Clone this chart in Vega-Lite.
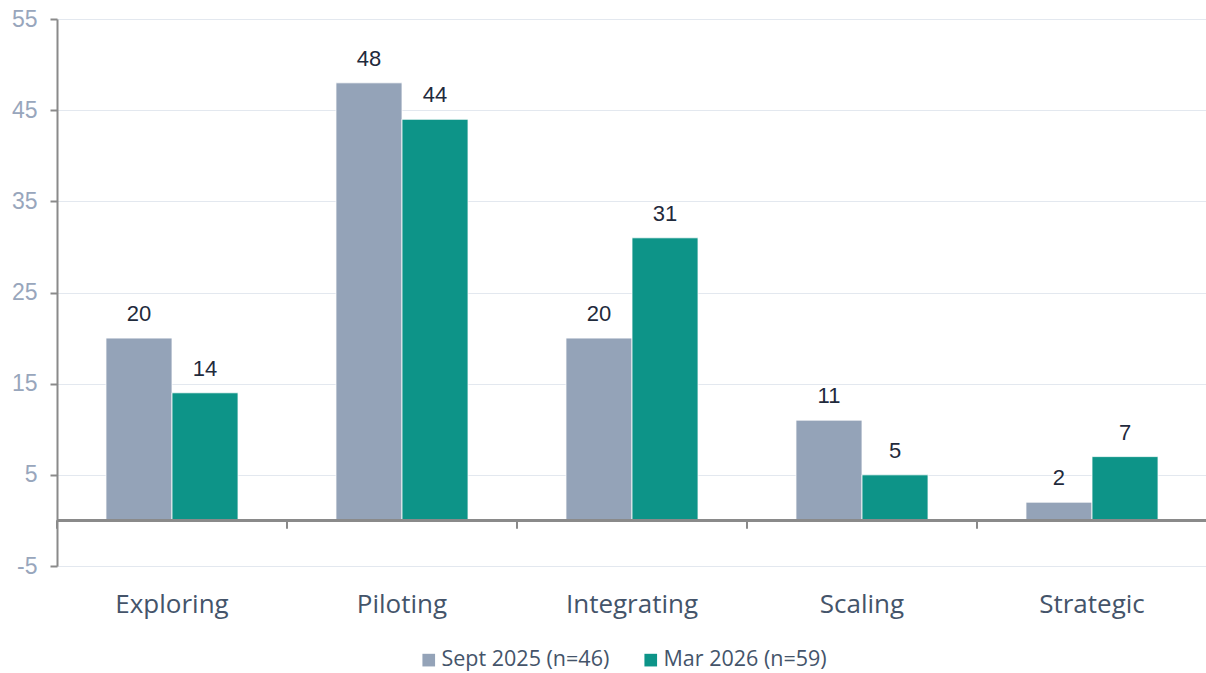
{
  "$schema": "https://vega.github.io/schema/vega-lite/v6.json",
  "width": 1150,
  "height": 547,
  "autosize": {"type": "none"},
  "padding": {"left": 57, "top": 19, "right": 0, "bottom": 107},
  "background": "white",
  "data": {
    "values": [
      {"stage": "Exploring", "series": "Sept 2025 (n=46)", "value": 20},
      {"stage": "Exploring", "series": "Mar 2026 (n=59)", "value": 14},
      {"stage": "Piloting", "series": "Sept 2025 (n=46)", "value": 48},
      {"stage": "Piloting", "series": "Mar 2026 (n=59)", "value": 44},
      {"stage": "Integrating", "series": "Sept 2025 (n=46)", "value": 20},
      {"stage": "Integrating", "series": "Mar 2026 (n=59)", "value": 31},
      {"stage": "Scaling", "series": "Sept 2025 (n=46)", "value": 11},
      {"stage": "Scaling", "series": "Mar 2026 (n=59)", "value": 5},
      {"stage": "Strategic", "series": "Sept 2025 (n=46)", "value": 2},
      {"stage": "Strategic", "series": "Mar 2026 (n=59)", "value": 7}
    ]
  },
  "config": {
    "view": {"stroke": null},
    "axisX": {
      "title": null,
      "domain": false,
      "ticks": false,
      "grid": false,
      "labelAngle": 0,
      "labelFont": "Open Sans",
      "labelFontSize": 26,
      "labelColor": "#44546a",
      "labelPadding": 25
    },
    "axisY": {
      "title": null,
      "domain": true,
      "domainColor": "#8a8a8a",
      "domainWidth": 2,
      "ticks": true,
      "tickColor": "#8a8a8a",
      "tickWidth": 2,
      "tickSize": 7,
      "grid": true,
      "gridColor": "#e3e8ef",
      "gridWidth": 1,
      "labelFont": "Liberation Sans",
      "labelFontSize": 23,
      "labelColor": "#98a6bc",
      "labelPadding": 13
    }
  },
  "layer": [
    {
      "mark": {"type": "bar", "stroke": "white", "strokeWidth": 0.8},
      "encoding": {
        "x": {
          "field": "stage",
          "type": "nominal",
          "sort": ["Exploring", "Piloting", "Integrating", "Scaling", "Strategic"],
          "scale": {"paddingInner": 0, "paddingOuter": 0}
        },
        "xOffset": {
          "field": "series",
          "type": "nominal",
          "sort": ["Sept 2025 (n=46)", "Mar 2026 (n=59)"],
          "scale": {"paddingInner": 0, "paddingOuter": 0.742}
        },
        "y": {
          "field": "value",
          "type": "quantitative",
          "scale": {"domain": [-5, 55], "nice": false, "zero": false},
          "axis": {"values": [-5, 5, 15, 25, 35, 45, 55], "labelExpr": "datum.value < 0 ? '-' + abs(datum.value) : datum.label"}
        },
        "color": {
          "field": "series",
          "type": "nominal",
          "sort": ["Sept 2025 (n=46)", "Mar 2026 (n=59)"],
          "scale": {"domain": ["Sept 2025 (n=46)", "Mar 2026 (n=59)"], "range": ["#94a3b8", "#0d9488"]},
          "legend": {
            "title": null,
            "orient": "none",
            "legendX": 361,
            "legendY": 630,
            "direction": "horizontal",
            "symbolType": "square",
            "symbolSize": 160,
            "symbolStrokeWidth": 0,
            "labelFont": "Open Sans",
            "labelFontSize": 21.5,
            "labelColor": "#44546a",
            "labelOffset": 2,
            "labelLimit": 400,
            "columnPadding": 30
          }
        }
      }
    },
    {
      "mark": {"type": "rule", "color": "#8a8a8a", "strokeWidth": 2.5},
      "encoding": {"y": {"datum": 0, "type": "quantitative"}}
    },
    {
      "mark": {"type": "rule", "color": "#8a8a8a", "strokeWidth": 2},
      "encoding": {
        "x": {"field": "stage", "type": "nominal", "bandPosition": 0, "sort": ["Exploring", "Piloting", "Integrating", "Scaling", "Strategic"]},
        "y": {"datum": 0, "type": "quantitative"},
        "y2": {"datum": -0.9}
      }
    },
    {
      "mark": {"type": "text", "font": "Liberation Sans", "fontSize": 22, "color": "#1f2a3c", "baseline": "bottom", "dy": -12},
      "encoding": {
        "x": {"field": "stage", "type": "nominal", "sort": ["Exploring", "Piloting", "Integrating", "Scaling", "Strategic"]},
        "xOffset": {"field": "series", "type": "nominal", "sort": ["Sept 2025 (n=46)", "Mar 2026 (n=59)"]},
        "y": {"field": "value", "type": "quantitative"},
        "text": {"field": "value", "type": "quantitative"}
      }
    }
  ]
}
